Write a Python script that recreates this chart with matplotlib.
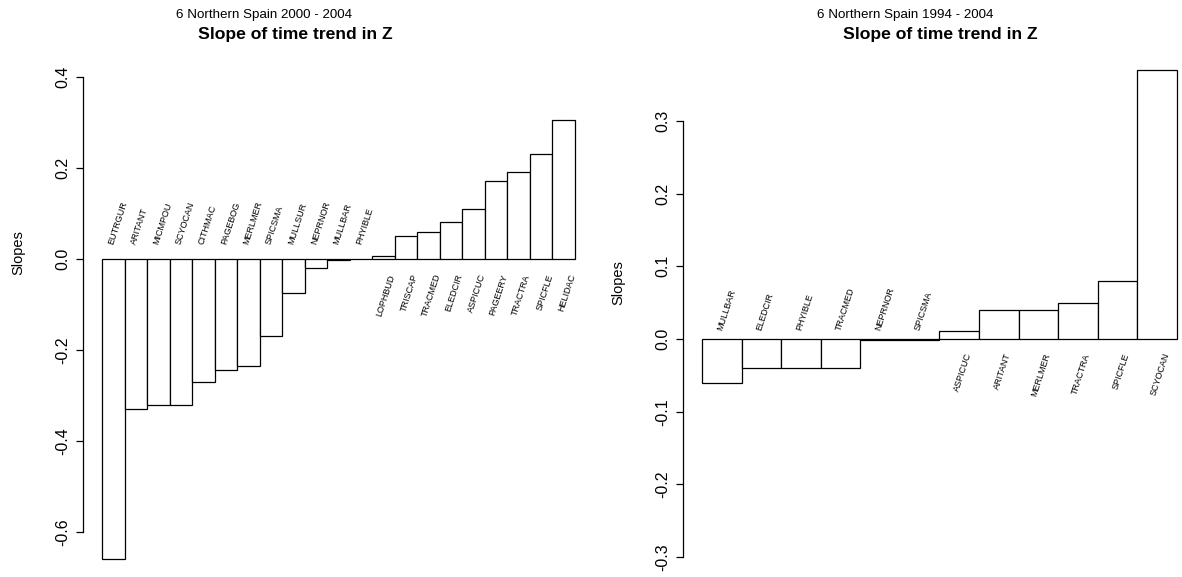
import numpy as np
import matplotlib
matplotlib.use("Agg")
import matplotlib.pyplot as plt

plt.rcParams['font.family'] = ['Liberation Sans', 'DejaVu Sans']

# Painel esquerdo: 2000 - 2004
species_a = ['EUTRGUR', 'ARITANT', 'MICMPOU', 'SCYOCAN', 'CITHMAC', 'PAGEBOG',
             'MERLMER', 'SPICSMA', 'MULLSUR', 'NEPRNOR', 'MULLBAR', 'PHYIBLE',
             'LOPHBUD', 'TRISCAP', 'TRACMED', 'ELEDCIR', 'ASPICUC', 'PAGEERY',
             'TRACTRA', 'SPICFLE', 'HELIDAC']
slopes_a = [-0.66, -0.33, -0.32, -0.32, -0.27, -0.245, -0.235, -0.17, -0.075,
            -0.02, -0.003, -0.001, 0.007, 0.051, 0.059, 0.081, 0.11, 0.171,
            0.191, 0.23, 0.305]
ticks_a = [-0.6, -0.4, -0.2, 0.0, 0.2, 0.4]

# Painel direito: 1994 - 2004
species_b = ['MULLBAR', 'ELEDCIR', 'PHYIBLE', 'TRACMED', 'NEPRNOR', 'SPICSMA',
             'ASPICUC', 'ARITANT', 'MERLMER', 'TRACTRA', 'SPICFLE', 'SCYOCAN']
slopes_b = [-0.06, -0.04, -0.04, -0.04, -0.002, -0.001, 0.011, 0.04, 0.04,
            0.049, 0.08, 0.37]
ticks_b = [-0.3, -0.2, -0.1, 0.0, 0.1, 0.2, 0.3]

W, H = 1182, 577
fig = plt.figure(figsize=(W / 100, H / 100), dpi=100)


def panel(names, vals, ticks, bar_left, unit, zero_px, scale, ylim,
          up_off, down_off, sub, sub_xy, main_xy, ylab_xy):
    n = len(vals)
    ext = 0.04 * n
    l = bar_left - ext * unit
    r = bar_left + (n + ext) * unit
    top = zero_px - ylim[1] * scale
    bot = zero_px - ylim[0] * scale
    ax = fig.add_axes([l / W, 1 - bot / H, (r - l) / W, (bot - top) / H])
    ax.bar(np.arange(n), vals, width=1, align='edge', facecolor='white',
           edgecolor='black', linewidth=0.9)
    ax.set_xlim(-ext, n + ext)
    ax.set_ylim(*ylim)
    for s in ['top', 'right', 'bottom']:
        ax.spines[s].set_visible(False)
    ax.spines['left'].set_bounds(ticks[0], ticks[-1])
    ax.spines['left'].set_linewidth(0.9)
    ax.set_xticks([])
    ax.set_yticks(ticks)
    ax.set_yticklabels([f'{t:.1f}' for t in ticks], rotation=90, va='center',
                       fontsize=11.5)
    ax.tick_params(axis='y', length=5, width=0.9, pad=4)
    for i, (nm, v) in enumerate(zip(names, vals)):
        if v < 0:
            ax.annotate(nm, (i + 0.5, 0), xytext=(0, up_off),
                        textcoords='offset pixels', rotation=72,
                        rotation_mode='anchor', ha='left', va='baseline',
                        fontsize=6.5)
        else:
            ax.annotate(nm, (i + 0.5, 0), xytext=(5, -down_off),
                        textcoords='offset pixels', rotation=72,
                        rotation_mode='anchor', ha='right', va='top',
                        fontsize=6.5)
    fig.text(sub_xy[0] / W, 1 - sub_xy[1] / H, sub, ha='center', va='center',
             fontsize=9.6)
    fig.text(main_xy[0] / W, 1 - main_xy[1] / H, 'Slope of time trend in Z',
             ha='center', va='center', fontsize=12.6, fontweight='bold')
    fig.text(ylab_xy[0] / W, 1 - ylab_xy[1] / H, 'Slopes', rotation=90,
             ha='center', va='center', fontsize=10.5)
    return ax


panel(species_a, slopes_a, ticks_a, 102, 22.52, 259, 455, (-0.69, 0.46),
      14, 14, '6 Northern Spain 2000 - 2004', (264, 15), (295, 34), (18, 253))
panel(species_b, slopes_b, ticks_b, 702, 39.58, 339, 727, (-0.31, 0.40),
      8, 13, '6 Northern Spain 1994 - 2004', (905, 15), (940, 34), (618, 283))

fig.savefig('out.png', dpi=100)
